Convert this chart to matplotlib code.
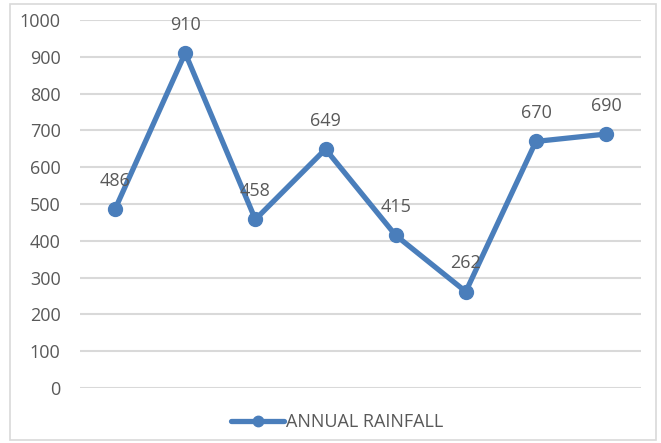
import matplotlib
matplotlib.use("Agg")
import matplotlib.pyplot as plt
from matplotlib.patches import Rectangle

# data
categories = [1, 2, 3, 4, 5, 6, 7, 8]
rainfall = [486, 910, 458, 649, 415, 262, 670, 690]
series_name = "ANNUAL RAINFALL"

LINE = "#4a7ebb"
TEXT = "#595959"
GRID = "#d9d9d9"

plt.rcParams["font.family"] = ["Open Sans", "DejaVu Sans"]

fig = plt.figure(figsize=(6.61, 4.43), dpi=100)
ax = fig.add_axes([0.121, 0.124, 0.849, 0.831])

xs = list(range(len(categories)))
ax.plot(xs, rainfall, color=LINE, linewidth=3.8, marker="o", markersize=10,
        solid_capstyle="round", label=series_name, zorder=3)

for x, v in zip(xs, rainfall):
    ax.annotate(str(v), (x, v), xytext=(0, 14), textcoords="offset points",
                ha="center", va="bottom", fontsize=13, color=TEXT)

ax.set_xlim(-0.5, len(categories) - 0.5)
ax.set_ylim(0, 1000)
ax.set_yticks(range(0, 1001, 100))
ax.set_xticks([])
ax.tick_params(axis="y", length=0, labelsize=13, labelcolor=TEXT, pad=14)
ax.grid(axis="y", color=GRID, linewidth=1.5)
ax.set_axisbelow(True)
for s in ax.spines.values():
    s.set_visible(False)

leg = fig.legend(loc="center", bbox_to_anchor=(0.51, 0.047), frameon=False,
                 fontsize=13, handlelength=2.9, handletextpad=0.1, markerscale=0.75)
for t in leg.get_texts():
    t.set_color(TEXT)

fig.patches.append(Rectangle((0.015, 0.006), 0.978, 0.985, transform=fig.transFigure,
                             fill=False, edgecolor=GRID, linewidth=1.2))

fig.savefig("out.png", dpi=100)
